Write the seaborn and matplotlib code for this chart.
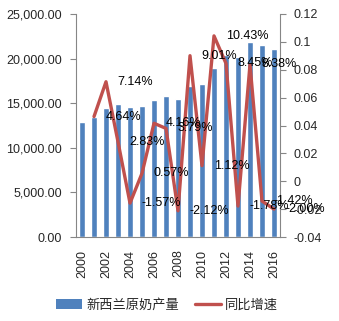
import numpy as np
import pandas as pd
import matplotlib
matplotlib.use("Agg")
import matplotlib.pyplot as plt
import seaborn as sns
from matplotlib.ticker import FuncFormatter, FixedLocator
from matplotlib.patches import Patch
from matplotlib.lines import Line2D
from matplotlib.font_manager import FontProperties

# ---- data ----
years = [str(y) for y in range(2000, 2017)]
production = [12890, 13490, 14500, 14880, 14610, 14720, 15360, 15840, 15520,
              16950, 17140, 18910, 20440, 20140, 21860, 21560, 21110]
growth_pct = [np.nan, 4.64, 7.14, 2.83, -1.57, 0.57, 4.16, 3.79, -2.12,
              9.01, 1.12, 10.43, 8.45, -1.78, 8.38, -1.42, -2.00]
legend_labels = ["新西兰原奶产量", "同比增速"]
left_ticks = [0, 5000, 10000, 15000, 20000, 25000]
right_ticks = [-0.04, -0.02, 0, 0.02, 0.04, 0.06, 0.08, 0.10, 0.12]

BLUE = "#4F81BD"
RED = "#C0504D"
GRAY = "#868686"

sns.set_style("white")
plt.rcParams["font.family"] = ["Liberation Sans", "Noto Sans CJK SC", "DejaVu Sans"]
plt.rcParams["font.size"] = 9

fig = plt.figure(figsize=(3.39, 3.21), dpi=100)
ax = fig.add_axes([76 / 339, 1 - 237 / 321, 204 / 339, 223 / 321])

df = pd.DataFrame({"year": years, "production": production,
                   "growth": np.array(growth_pct) / 100.0,
                   "pos": np.arange(len(years))})

sns.barplot(data=df, x="year", y="production", color=BLUE, saturation=1,
            width=0.45, ax=ax)
ax.set_xlim(-0.5, len(years) - 0.5)
ax.set_ylim(0, 25000)
ax.yaxis.set_major_locator(FixedLocator(left_ticks))
ax.yaxis.set_major_formatter(FuncFormatter(lambda v, p: f"{v:,.2f}"))
ax.set_xlabel("")
ax.set_ylabel("")

# x ticks: labels every 2 categories, tick marks at boundaries
ax.set_xticks(np.arange(0, len(years), 2))
ax.set_xticklabels(years[::2], rotation=90)
ax.set_xticks(np.arange(-0.5, len(years) - 1, 2), minor=True)
ax.tick_params(axis="x", which="major", length=0, pad=9)
ax.tick_params(axis="x", which="minor", length=4, color=GRAY, width=0.8, direction="out")
ax.tick_params(axis="y", length=4, color=GRAY, width=0.8, pad=6, direction="out", left=True)

for s in ["top", "right"]:
    ax.spines[s].set_visible(False)
for s in ["left", "bottom"]:
    ax.spines[s].set_color(GRAY)
    ax.spines[s].set_linewidth(0.8)

ax2 = ax.twinx()
dline = df.dropna(subset=["growth"])
sns.lineplot(data=dline, x="pos", y="growth", color=RED, linewidth=2.4, ax=ax2)
ax2.set_ylim(-0.04, 0.12)
ax2.yaxis.set_major_locator(FixedLocator(right_ticks))
ax2.yaxis.set_major_formatter(FuncFormatter(lambda v, p: f"{round(v, 2):g}"))
ax2.set_xlabel("")
ax2.set_ylabel("")
ax2.tick_params(axis="y", length=4, color=GRAY, width=0.8, pad=6, direction="out", right=True)
for s in ["top", "left", "bottom"]:
    ax2.spines[s].set_visible(False)
ax2.spines["right"].set_color(GRAY)
ax2.spines["right"].set_linewidth(0.8)
ax.set_xlim(-0.5, len(years) - 0.5)

for p, g in zip(dline["pos"], dline["growth"]):
    ax2.annotate(f"{g * 100:.2f}%", (p, g), xytext=(8.5, 0),
                 textcoords="offset points", ha="left", va="center",
                 fontsize=9, color="black")

handles = [Patch(facecolor=BLUE, edgecolor="none"),
           Line2D([], [], color=RED, linewidth=2.4)]
fig.legend(handles, legend_labels, loc="center",
           bbox_to_anchor=(167 / 339, 1 - 305 / 321), ncol=2, frameon=False,
           prop=FontProperties(family=["Noto Sans CJK SC", "DejaVu Sans"], size=9.5),
           handlelength=2.0, handletextpad=0.3, columnspacing=1.2)

fig.savefig("out.png", dpi=100)
